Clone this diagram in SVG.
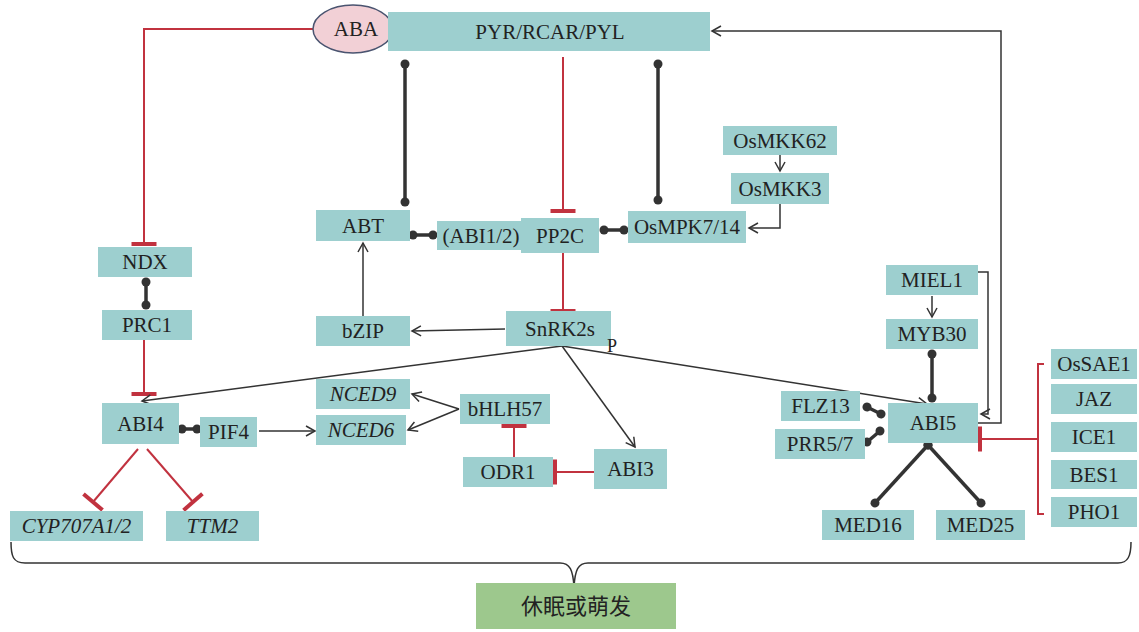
<svg xmlns="http://www.w3.org/2000/svg" width="1139" height="632" viewBox="0 0 1139 632">
<style>
.box{fill:#9dcfcf}
.t{font-family:"Liberation Serif","Times New Roman",serif;font-size:21px;fill:#222;text-anchor:middle}
.i{font-style:italic}
.arr{fill:none;stroke:#333;stroke-width:1.5;marker-end:url(#arrow)}
.inh{fill:none;stroke:#c1323f;stroke-width:2;marker-end:url(#tbar)}
.ball{fill:none;stroke:#333;stroke-width:3.5;marker-start:url(#ball);marker-end:url(#ball)}
.ln{fill:none;stroke:#333;stroke-width:1.5}
.rl{fill:none;stroke:#c1323f;stroke-width:2}
</style>
<defs>
<marker id="arrow" viewBox="-10 -6 12 12" refX="0" refY="0" markerWidth="12" markerHeight="12" markerUnits="userSpaceOnUse" orient="auto">
<path d="M-9,-5 L0,0 L-9,5" fill="none" stroke="#333" stroke-width="1.5"/>
</marker>
<marker id="tbar" viewBox="-3 -14 6 28" refX="0" refY="0" markerWidth="6" markerHeight="28" markerUnits="userSpaceOnUse" orient="auto">
<path d="M0,-12.5 V12.5" stroke="#c1323f" stroke-width="4"/>
</marker>
<marker id="ball" viewBox="-5 -5 10 10" refX="0" refY="0" markerWidth="10" markerHeight="10" markerUnits="userSpaceOnUse" orient="auto">
<circle cx="0" cy="0" r="4.5" fill="#333"/>
</marker>
</defs>
<rect width="1139" height="632" fill="#fff"/>

<g id="connectors">
<path class="inh" d="M313,29 H144 V244"/>
<path class="ball" d="M146,282 V305"/>
<path class="inh" d="M144,340 V394"/>
<path class="ball" d="M182,429 H197"/>
<path class="arr" d="M259,431 H315"/>
<path class="inh" d="M138,449 L93,502"/>
<path class="inh" d="M147,449 L193,502"/>
<path class="ball" d="M405,64 V202"/>
<path class="ball" d="M658,64 V200"/>
<path class="inh" d="M563,57 V211"/>
<path class="ball" d="M413,235 H433"/>
<path class="ball" d="M604,230 H624"/>
<path class="arr" d="M780,155 V171"/>
<path class="arr" d="M780,204 V228 H749"/>
<path class="inh" d="M563,253 V311"/>
<path class="arr" d="M505,329 L412,331"/>
<path class="arr" d="M363,316 V243"/>
<path class="arr" d="M562,346 L142,401"/>
<path class="arr" d="M562,346 L635,447"/>
<path class="arr" d="M562,346 L927,404"/>
<path class="arr" d="M459,409 L412,394"/>
<path class="arr" d="M459,409 L408,430"/>
<path class="inh" d="M514,457 V426"/>
<path class="inh" d="M594,472 H555"/>
<path class="arr" d="M978,423 H1001 V31 H712"/>
<path class="arr" d="M978,272 H988 V414 H981"/>
<path class="arr" d="M932,296 V317"/>
<path class="ball" d="M932,354 V398"/>
<path class="ball" d="M867,407 L881,414"/>
<path class="ball" d="M867,442 L880,431"/>
<path class="ball" d="M928,445 L875,503"/>
<path class="ball" d="M928,445 L981,503"/>
<path class="rl" d="M1044,364 H1038 V514 H1044"/>
<path class="inh" d="M1038,439 H980"/>
<path class="ln" d="M11,542 C11,556 13,563 25,563 H560 C570,563 573,570 574,587 C575,570 578,563 588,563 H1118 C1128,563 1131,556 1131,542"/>
</g>

<g id="ABA"><ellipse cx="353" cy="29" rx="40" ry="24" fill="#f2d0d6" stroke="#4a5470" stroke-width="1.5"/><text class="t" x="356" y="36">ABA</text></g>
<g id="PYR"><rect class="box" x="388" y="12" width="322" height="39"/><text class="t" x="550" y="39">PYR/RCAR/PYL</text></g>
<g id="NDX"><rect class="box" x="98" y="247" width="94" height="30"/><text class="t" x="145" y="269">NDX</text></g>
<g id="PRC1"><rect class="box" x="102" y="310" width="90" height="30"/><text class="t" x="147" y="332">PRC1</text></g>
<g id="ABI4"><rect class="box" x="102" y="403" width="77" height="41"/><text class="t" x="140.5" y="430.5">ABI4</text></g>
<g id="PIF4"><rect class="box" x="200" y="417" width="57" height="30"/><text class="t" x="228.5" y="439">PIF4</text></g>
<g id="CYP707A1_2"><rect class="box" x="10" y="511" width="133" height="30"/><text class="t i" x="76.5" y="533">CYP707A1/2</text></g>
<g id="TTM2"><rect class="box" x="166" y="511" width="93" height="30"/><text class="t i" x="212.5" y="533">TTM2</text></g>
<g id="ABT"><rect class="box" x="316" y="210" width="94" height="31"/><text class="t" x="363" y="233">ABT</text></g>
<g id="ABI1_2"><rect class="box" x="437" y="221" width="84" height="29"/><text class="t" x="481" y="243">(ABI1/2)</text></g>
<g id="PP2C"><rect class="box" x="521" y="218" width="78" height="35"/><text class="t" x="560" y="243">PP2C</text></g>
<g id="OsMPK7_14"><rect class="box" x="628" y="211" width="118" height="32"/><text class="t" x="687" y="234">OsMPK7/14</text></g>
<g id="OsMKK62"><rect class="box" x="723" y="126" width="114" height="29"/><text class="t" x="780" y="148">OsMKK62</text></g>
<g id="OsMKK3"><rect class="box" x="731" y="173" width="98" height="31"/><text class="t" x="780" y="196">OsMKK3</text></g>
<g id="SnRK2s"><rect class="box" x="506" y="311" width="105" height="35"/><text class="t" x="560" y="336">SnRK2s</text><text class="t" style="font-size:18px" x="612" y="352">P</text></g>
<g id="bZIP"><rect class="box" x="316" y="316" width="94" height="30"/><text class="t" x="363" y="338">bZIP</text></g>
<g id="NCED9"><rect class="box" x="316" y="379" width="94" height="30"/><text class="t i" x="363" y="401">NCED9</text></g>
<g id="NCED6"><rect class="box" x="316" y="415" width="90" height="30"/><text class="t i" x="361" y="437">NCED6</text></g>
<g id="bHLH57"><rect class="box" x="460" y="394" width="90" height="30"/><text class="t" x="505" y="416">bHLH57</text></g>
<g id="ODR1"><rect class="box" x="463" y="457" width="90" height="30"/><text class="t" x="508" y="479">ODR1</text></g>
<g id="ABI3"><rect class="box" x="594" y="449" width="73" height="40"/><text class="t" x="630.5" y="476">ABI3</text></g>
<g id="MIEL1"><rect class="box" x="886" y="265" width="92" height="30"/><text class="t" x="932" y="287">MIEL1</text></g>
<g id="MYB30"><rect class="box" x="886" y="319" width="92" height="30"/><text class="t" x="932" y="341">MYB30</text></g>
<g id="ABI5"><rect class="box" x="888" y="403" width="90" height="40"/><text class="t" x="933" y="430">ABI5</text></g>
<g id="FLZ13"><rect class="box" x="781" y="391" width="79" height="30"/><text class="t" x="820.5" y="413">FLZ13</text></g>
<g id="PRR5_7"><rect class="box" x="775" y="429" width="90" height="30"/><text class="t" x="820" y="451">PRR5/7</text></g>
<g id="MED16"><rect class="box" x="822" y="510" width="92" height="30"/><text class="t" x="868" y="532">MED16</text></g>
<g id="MED25"><rect class="box" x="936" y="510" width="89" height="30"/><text class="t" x="980.5" y="532">MED25</text></g>
<g id="OsSAE1"><rect class="box" x="1051" y="349" width="86" height="30"/><text class="t" x="1094" y="371">OsSAE1</text></g>
<g id="JAZ"><rect class="box" x="1051" y="384" width="86" height="30"/><text class="t" x="1094" y="406">JAZ</text></g>
<g id="ICE1"><rect class="box" x="1051" y="422" width="86" height="30"/><text class="t" x="1094" y="444">ICE1</text></g>
<g id="BES1"><rect class="box" x="1051" y="460" width="86" height="29"/><text class="t" x="1094" y="482">BES1</text></g>
<g id="PHO1"><rect class="box" x="1051" y="497" width="86" height="30"/><text class="t" x="1094" y="519">PHO1</text></g>
<g id="outcome"><rect x="476" y="583" width="200" height="46" fill="#9dc88d"/><text class="t" style="font-family:'Liberation Serif','Noto Sans CJK SC',serif;font-size:22px" x="576" y="614">休眠或萌发</text></g>
</svg>
